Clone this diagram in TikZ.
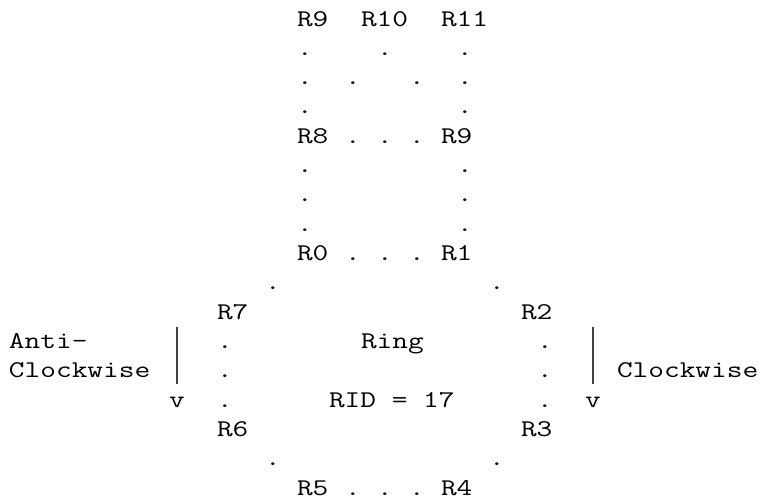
\documentclass[tikz,border=0pt]{standalone}
\usepackage{fontspec}
% typewriter face widened to a 16pt character cell
\newfontfamily\ringmono{Latin Modern Mono}[FakeStretch=1.27]
\tikzset{
  cell/.style={anchor=base west, inner sep=0pt, outer sep=0pt,
    font=\ringmono\fontsize{24pt}{29.33pt}\selectfont},
  dirbar/.style={draw=black!75, line width=1.1pt},
}
% place text on a character grid: name, column, row, text
\newcommand\ringcell[4]{\node[cell] (#1) at ({9+16*#2},{-26-29.33*(#3-1)}) {#4};}
% a single dot at column #1, row #2
\newcommand\ringdot[2]{\ringcell{dot-#2-#1}{#1}{#2}{.}}
\begin{document}
\begin{tikzpicture}[x=1pt,y=1pt]
\useasboundingbox (0,0) rectangle (761,-499);

% upper block
\ringcell{r9}{18}{1}{R9}
\ringcell{r10}{22}{1}{R10}
\ringcell{r11}{27}{1}{R11}
\foreach \c in {18,23,28} {\ringdot{\c}{2}}
\foreach \c in {18,21,25,28} {\ringdot{\c}{3}}
\foreach \c in {18,28} {\ringdot{\c}{4}}
\ringcell{r8}{18}{5}{R8}
\foreach \c in {21,23,25} {\ringdot{\c}{5}}
\ringcell{r9b}{27}{5}{R9}
\foreach \r in {6,7,8} {\foreach \c in {18,28} {\ringdot{\c}{\r}}}

% ring
\ringcell{r0}{18}{9}{R0}
\foreach \c in {21,23,25} {\ringdot{\c}{9}}
\ringcell{r1}{27}{9}{R1}
\foreach \c in {16,30} {\ringdot{\c}{10}}
\ringcell{r7}{13}{11}{R7}
\ringcell{r2}{32}{11}{R2}
\foreach \r in {12,13,14} {\foreach \c in {13,33} {\ringdot{\c}{\r}}}
\ringcell{ring}{22}{12}{Ring}
\ringcell{rid}{20}{14}{RID = 17}
\ringcell{r6}{13}{15}{R6}
\ringcell{r3}{32}{15}{R3}
\foreach \c in {16,30} {\ringdot{\c}{16}}
\ringcell{r5}{18}{17}{R5}
\foreach \c in {21,23,25} {\ringdot{\c}{17}}
\ringcell{r4}{27}{17}{R4}

% direction markers: a bar ending in a "v"
\ringcell{anti}{0}{12}{Anti–}
\ringcell{anticw}{0}{13}{Clockwise}
\ringcell{lhead}{10}{14}{v}
\ringcell{rhead}{36}{14}{v}
\ringcell{cw}{38}{13}{Clockwise}
\coordinate (ltop) at (177,-327);
\coordinate (lbot) at (177,-384);
\coordinate (rtop) at (593,-327);
\coordinate (rbot) at (593,-384);
\draw[dirbar] (ltop) -- (lbot);
\draw[dirbar] (rtop) -- (rbot);
\end{tikzpicture}
\end{document}
